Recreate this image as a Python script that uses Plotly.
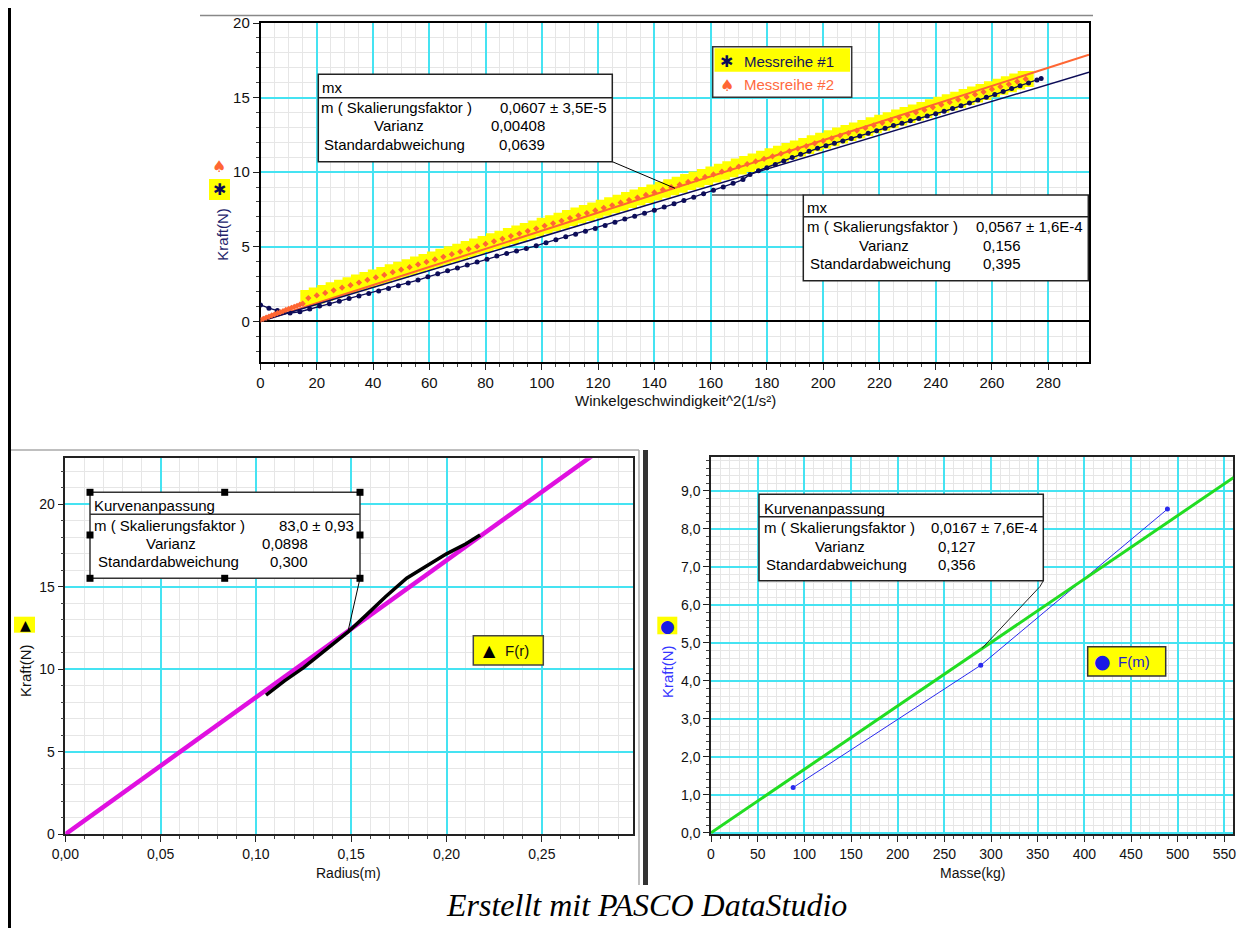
import plotly.graph_objects as go

W, H = 1247, 928          # browser window
OFF = 8                    # page body margin: figure starts at (8, 8)
WF, HF = W - OFF, H - OFF  # figure size so it ends exactly at the window edge
FONT = "Liberation Sans, Arial, sans-serif"

# ---------------- DATA ----------------
# Top chart: Kraft vs Winkelgeschwindigkeit^2
# Messreihe #1 (navy)
mr1_x = [0, 3, 6, 8.5, 10.5,
         14, 17.5, 21, 24.5, 28, 31.5, 35, 38.5, 42, 45.5, 49, 52.5, 56, 59.5, 63, 66.5, 70, 73.5, 77, 80.5,
         84, 87.5, 91, 94.5, 98, 101.5, 105, 108.5, 112, 115.5, 119, 122.5, 126, 129.5, 133, 136.5, 140,
         143.5, 147, 150.5, 154, 157.5, 161, 164.5, 168, 171.5,
         174,
         177, 180, 183, 186, 189, 192, 195, 198, 201, 204, 207, 210, 213, 216, 219, 222, 225, 228, 231, 234,
         237, 240, 243, 246, 249, 252, 255, 258, 261, 264, 267, 270, 273, 276,
         277.5]
mr1_y = [1.10, 0.88, 0.72, 0.62, 0.55,
         0.64, 0.83, 1.02, 1.18, 1.35, 1.53, 1.70, 1.87, 2.03, 2.20, 2.38, 2.56, 2.76, 2.98, 3.18, 3.38, 3.58,
         3.78, 3.97, 4.16, 4.37, 4.55, 4.72, 4.88, 5.06, 5.27, 5.47, 5.66, 5.84, 6.03, 6.22, 6.42, 6.64, 6.85,
         7.05, 7.25, 7.45, 7.66, 7.88, 8.10, 8.32, 8.55, 8.78, 9.00, 9.25, 9.50,
         9.85,
         10.10, 10.30, 10.52, 10.75, 10.98, 11.20, 11.40, 11.60, 11.77, 11.93, 12.09, 12.25, 12.43, 12.60,
         12.78, 12.95, 13.12, 13.28, 13.44, 13.60, 13.76, 13.92, 14.08, 14.26, 14.45, 14.64, 14.83, 15.02,
         15.20, 15.40, 15.60, 15.80, 15.98, 16.17,
         16.28]

# Messreihe #2 (orange) - unselected start
mr2a_x = [0, 1, 2, 3, 4, 5, 6, 7, 8, 9, 10, 11, 12, 13, 14, 15]
mr2a_y = [0.10, 0.17, 0.25, 0.32, 0.40, 0.47, 0.54, 0.61, 0.68, 0.76, 0.83, 0.90, 0.97, 1.04, 1.11, 1.18]
# Messreihe #2 (orange) - highlighted (selected) part
mr2b_x = [17, 20, 23, 26, 29, 32, 35, 38, 41, 44, 47, 50, 53, 56, 59, 62, 65, 68, 71, 74, 77, 80, 83, 86,
          89, 92, 95, 98, 101, 104, 107, 110, 113, 116, 119, 122, 125, 128, 131, 134, 137, 140, 143, 146,
          149, 152, 155, 158, 161, 164, 167, 170, 173, 176, 179, 182, 185, 188, 191, 194, 197, 200, 203,
          206, 209, 212, 215, 218, 221, 224, 227, 230, 233, 236, 239, 242, 245, 248, 251, 254, 257, 260,
          263, 266, 269, 272]
mr2b_y = [1.56, 1.73, 1.90, 2.08, 2.25, 2.42, 2.60, 2.77, 2.94, 3.11, 3.29, 3.46, 3.63, 3.81, 3.98, 4.15,
          4.32, 4.50, 4.67, 4.84, 5.02, 5.19, 5.36, 5.53, 5.71, 5.88, 6.05, 6.22, 6.40, 6.57, 6.74, 6.92,
          7.09, 7.26, 7.43, 7.61, 7.78, 7.95, 8.13, 8.30, 8.47, 8.64, 8.82, 8.99, 9.16, 9.34, 9.51, 9.68,
          9.85, 10.03, 10.20, 10.37, 10.54, 10.72, 10.89, 11.06, 11.24, 11.41, 11.58, 11.75, 11.93, 12.10,
          12.27, 12.45, 12.62, 12.79, 12.96, 13.14, 13.31, 13.48, 13.66, 13.83, 14.00, 14.17, 14.35, 14.52,
          14.69, 14.86, 15.04, 15.21, 15.38, 15.56, 15.73, 15.90, 16.07, 16.25]

fit_mr1_m = 0.0567   # Messreihe #1 fit (mx)
fit_mr2_m = 0.0607   # Messreihe #2 fit (mx)
top_x_range = [0, 294.5]
top_y_range = [-2.73, 20.0]

# Bottom left: Kraft vs Radius
radius_x = [0.1053, 0.115, 0.125, 0.135, 0.1485, 0.158, 0.168, 0.1791, 0.190, 0.200, 0.210, 0.2176]
force_r_y = [8.44, 9.30, 10.10, 11.00, 12.28, 13.30, 14.40, 15.52, 16.30, 17.00, 17.60, 18.14]
fit_r_m = 83.0
bl_x_range = [0, 0.298]
bl_y_range = [0, 22.79]

# Bottom right: Kraft vs Masse
mass_x = [88, 289, 489]
force_m_y = [1.19, 4.41, 8.52]
fit_m_m = 0.0167
br_x_range = [0, 559.6]
br_y_range = [-0.04, 9.9]

# ---------------- STYLE ----------------
CYAN = "#45e3f2"
MINOR = "#e6e6e6"
NAVY = "#0c0c58"
ORANGE = "#ff6633"
YELLOW = "#ffff00"


def X(px):
    return (px - OFF) / WF


def Y(py):
    return 1 - (py - OFF) / HF


fig = go.Figure()

# Top chart traces
fig.add_trace(go.Scatter(x=mr2b_x, y=mr2b_y, mode="markers", xaxis="x", yaxis="y",
                         marker=dict(symbol="square", size=16, color=YELLOW, line=dict(width=0)),
                         hoverinfo="skip"))
fig.add_trace(go.Scatter(x=top_x_range, y=[fit_mr2_m * v for v in top_x_range], mode="lines",
                         xaxis="x", yaxis="y", line=dict(color=ORANGE, width=2)))
fig.add_trace(go.Scatter(x=top_x_range, y=[fit_mr1_m * v for v in top_x_range], mode="lines",
                         xaxis="x", yaxis="y", line=dict(color=NAVY, width=1.5)))
fig.add_trace(go.Scatter(x=mr1_x, y=mr1_y, mode="lines+markers", xaxis="x", yaxis="y",
                         line=dict(color=NAVY, width=1.3),
                         marker=dict(symbol="circle", size=5, color=NAVY)))
fig.add_trace(go.Scatter(x=mr2a_x + mr2b_x, y=mr2a_y + mr2b_y, mode="markers", xaxis="x", yaxis="y",
                         marker=dict(symbol="diamond", size=4.8, color=ORANGE)))

# Bottom-left traces
fig.add_trace(go.Scatter(x=[0, 0.3], y=[0, fit_r_m * 0.3], mode="lines", xaxis="x2", yaxis="y2",
                         line=dict(color="#e010e0", width=4.5)))
fig.add_trace(go.Scatter(x=radius_x, y=force_r_y, mode="lines", xaxis="x2", yaxis="y2",
                         line=dict(color="black", width=3.5)))

# Bottom-right traces
fig.add_trace(go.Scatter(x=mass_x, y=force_m_y, mode="lines+markers", xaxis="x3", yaxis="y3",
                         line=dict(color="#2a2aee", width=1),
                         marker=dict(symbol="circle", size=5, color="#2a2aee")))
fig.add_trace(go.Scatter(x=[0, 560], y=[0, fit_m_m * 560], mode="lines", xaxis="x3", yaxis="y3",
                         line=dict(color="#22dd22", width=3)))


def axis(domain, rng, dtick, mdtick, fmt, anchor, zeroline=False, linecolor="black", fs=15):
    return dict(domain=domain, range=rng, tickmode="linear", tick0=0, dtick=dtick, tickformat=fmt,
                ticks="outside", ticklen=6, tickwidth=1, tickcolor="#222",
                showgrid=True, gridcolor=CYAN, gridwidth=1.5,
                minor=dict(tickmode="linear", tick0=0, dtick=mdtick, ticks="outside", ticklen=3,
                           tickcolor="#444", showgrid=True, gridcolor=MINOR, gridwidth=1),
                showline=True, mirror=True, linecolor=linecolor, linewidth=1.5,
                zeroline=zeroline, zerolinecolor="black", zerolinewidth=1.5,
                tickfont=dict(family=FONT, size=fs, color="#111"),
                anchor=anchor, fixedrange=True, layer="below traces", automargin=False)


fig.update_layout(
    width=WF, height=HF, margin=dict(l=0, r=0, t=0, b=0, pad=0, autoexpand=False),
    paper_bgcolor="white", plot_bgcolor="white", showlegend=False,
    separators=", ",
    xaxis=axis([X(260.5), X(1089)], top_x_range, 20, 5, "d", "y"),
    yaxis=axis([Y(362), Y(23)], top_y_range, 5, 1, "d", "x", zeroline=True),
    xaxis2=axis([X(65.3), X(633.3)], bl_x_range, 0.05, 0.01, ".2f", "y2", linecolor="#222", fs=14),
    yaxis2=axis([Y(834.3), Y(458.3)], bl_y_range, 5, 1, "d", "x2", linecolor="#222", fs=14),
    xaxis3=axis([X(711), X(1233.3)], br_x_range, 50, 10, "d", "y3", linecolor="#222", fs=14),
    yaxis3=axis([Y(834.3), Y(456.7)], br_y_range, 1, 0.2, ".1f", "x3", linecolor="#222", fs=14),
)

shapes = []
annos = []


def line(x0, y0, x1, y1, color="black", width=1):
    shapes.append(dict(type="line", xref="paper", yref="paper", x0=X(x0), y0=Y(y0), x1=X(x1), y1=Y(y1),
                       line=dict(color=color, width=width)))


def rect(x0, y0, x1, y1, color="black", width=1, fill="white"):
    shapes.append(dict(type="rect", xref="paper", yref="paper", x0=X(x0), y0=Y(y0), x1=X(x1), y1=Y(y1),
                       line=dict(color=color, width=width), fillcolor=fill, layer="above"))


def text(t, x, y, anchor="left", size=15, color="#000", family=FONT, angle=0):
    annos.append(dict(text=t, xref="paper", yref="paper", x=X(x), y=Y(y), xanchor=anchor,
                      yanchor="middle", showarrow=False, textangle=angle, borderpad=0,
                      font=dict(family=family, size=size, color=color)))


# page frame
line(200, 15.5, 1093, 15.5, color="#888", width=1.5)
line(9.5, 8, 9.5, 928, color="black", width=3)
line(1244, 8, 1244, 928, color="black", width=3)
line(11, 450, 639, 450, color="#aaa", width=1.5)
line(639, 450, 639, 885, color="#aaa", width=1.5)
line(645.5, 450, 645.5, 885, color="#333", width=5)

# ---- top chart decorations ----
text("Kraft(N)", 221.7, 234, anchor="center", color="#22226a", angle=-90)
text("\u2660", 219.3, 166.7, anchor="center", size=16, color=ORANGE, family="DejaVu Sans")
rect(209, 179, 230, 200, color=YELLOW, width=0, fill=YELLOW)
text("\u2731", 219.5, 189.5, anchor="center", size=16, color=NAVY, family="DejaVu Sans")
text("Winkelgeschwindigkeit^2(1/s\u00b2)", 675, 400, anchor="center", color="#111")

# legend
rect(712.7, 46.7, 851.7, 97.3, color="#333", width=1.5, fill="white")
rect(714.5, 48.2, 850, 71.7, color=YELLOW, width=0, fill=YELLOW)
text("\u2731", 727, 61.5, anchor="center", size=16, color=NAVY, family="DejaVu Sans")
text("Messreihe #1", 742.7, 61.5, color="#14145a")
text("\u2660", 727, 85, anchor="center", size=16, color=ORANGE, family="DejaVu Sans")
text("Messreihe #2", 742.7, 84.5, color="#ff6a40")

# fit box 1
line(612.3, 161.7, 675, 188.3)
rect(318.3, 74.3, 612.3, 161.7, color="#222", width=1.5)
line(318.3, 97.7, 612.3, 97.7, color="#222", width=1.5)
text("mx", 321, 87)
text("m ( Skalierungsfaktor )", 320, 107.3)
text("0,0607 \u00b1 3,5E-5", 499, 107.3)
text("Varianz", 399, 125.7, anchor="center")
text("0,00408", 546, 125.7, anchor="right")
text("Standardabweichung", 323, 144.3)
text("0,0639", 546, 144.3, anchor="right")

# fit box 2
line(712, 195, 803.3, 195)
rect(803.3, 195, 1088.3, 280.7, color="#222", width=1.5)
line(803.3, 216.7, 1088.3, 216.7, color="#222", width=1.5)
text("mx", 806.5, 207.5)
text("m ( Skalierungsfaktor )", 806, 226.7)
text("0,0567 \u00b1 1,6E-4", 975, 226.7)
text("Varianz", 884, 245, anchor="center")
text("0,156", 1022, 245, anchor="right")
text("Standardabweichung", 809, 264)
text("0,395", 1022, 264, anchor="right")

# ---- bottom-left decorations ----
text("Kraft(N)", 25, 671, anchor="center", color="#111", angle=-90)
rect(14, 616.7, 35, 632.7, color=YELLOW, width=0, fill=YELLOW)
text("\u25b2", 25, 624.5, anchor="center", size=14, color="black", family="DejaVu Sans")
text("Radius(m)", 348, 873, anchor="center", color="#111", size=14)

line(360, 578.3, 348.3, 630)
rect(90, 492.3, 360, 578.3, color="#333", width=1.5)
line(90, 514.3, 360, 514.3, color="#333", width=1.5)
for hx, hy in [(90, 492.3), (224.7, 492.3), (360, 492.3), (90, 535), (360, 535),
               (90, 578.3), (224.7, 578.3), (360, 578.3)]:
    rect(hx - 3.5, hy - 3.5, hx + 3.5, hy + 3.5, color="black", width=0, fill="black")
text("Kurvenanpassung", 93, 505)
text("m ( Skalierungsfaktor )", 93, 525)
text("83,0 \u00b1 0,93", 278.3, 525)
text("Varianz", 171, 543.3, anchor="center")
text("0,0898", 308.5, 543.3, anchor="right")
text("Standardabweichung", 96.5, 561.7)
text("0,300", 308.5, 561.7, anchor="right")

rect(473.3, 635.7, 543.3, 665, color="#444", width=1.5, fill=YELLOW)
text("\u25b2", 489.3, 650, anchor="center", size=16, color="black", family="DejaVu Sans")
text("F(r)", 504, 650.5, color="#111")

# ---- bottom-right decorations ----
text("Kraft(N)", 667, 672, anchor="center", color="#3636ff", angle=-90)
rect(657.3, 616.7, 677.3, 634.3, color=YELLOW, width=0, fill=YELLOW)
text("\u25cf", 667.3, 626, anchor="center", size=17, color="#1a1ae6", family="DejaVu Sans")
text("Masse(kg)", 972, 873.3, anchor="center", color="#111", size=14)

shapes.append(dict(type="path", xref="paper", yref="paper",
                   path="M {} {} L {} {} L {} {}".format(X(1043.3), Y(580.7), X(1040), Y(586.5),
                                                         X(982), Y(648.3)),
                   line=dict(color="#222", width=1)))
rect(759, 494.3, 1043.3, 580.7, color="#222", width=1.5)
line(759, 516.7, 1043.3, 516.7, color="#222", width=1.5)
text("Kurvenanpassung", 762.5, 508.3)
text("m ( Skalierungsfaktor )", 762.5, 527.3)
text("0,0167 \u00b1 7,6E-4", 930, 527.3)
text("Varianz", 840, 546, anchor="center")
text("0,127", 977, 546, anchor="right")
text("Standardabweichung", 765, 564.3)
text("0,356", 977, 564.3, anchor="right")

rect(1087.7, 646.7, 1165.7, 676, color="#333", width=1.5, fill=YELLOW)
text("\u25cf", 1102.3, 660.7, anchor="center", size=19, color="#1a1ae6", family="DejaVu Sans")
text("F(m)", 1116.7, 661, color="#2222cc")

# caption
annos.append(dict(text="<i>Erstellt mit PASCO DataStudio</i>", xref="paper", yref="paper",
                  x=X(646.5), y=Y(905), xanchor="center", yanchor="middle", showarrow=False,
                  font=dict(family="Liberation Serif, Times New Roman, serif", size=32, color="#000")))

fig.update_layout(shapes=shapes, annotations=annos)
fig.write_html("out.html")
